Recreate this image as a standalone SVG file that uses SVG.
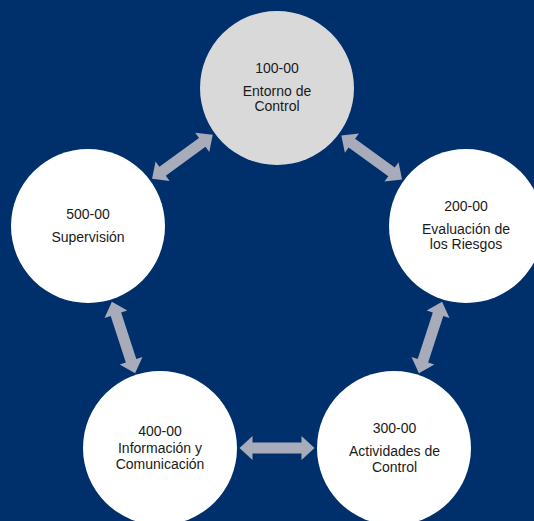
<svg xmlns="http://www.w3.org/2000/svg" xmlns:xlink="http://www.w3.org/1999/xlink" width="534" height="521" viewBox="0 0 534 521">
<style>
.bg{fill:#00306b}
.node{fill:#ffffff}
.node.gray{fill:#d9d9d9}
.lbl{font-family:"Liberation Sans",Arial,sans-serif;font-size:14px;fill:#1a1a1a;text-anchor:middle}
.arr{fill:#a7abba}
</style>
<defs>
<path id="dbl" class="arr" d="M-37.5,0 L-24.5,-12 L-24.5,-5.5 L24.5,-5.5 L24.5,-12 L37.5,0 L24.5,12 L24.5,5.5 L-24.5,5.5 L-24.5,12 Z"/>
</defs>
<rect class="bg" x="0" y="0" width="534" height="521"/>
<g id="connectors">
<use xlink:href="#dbl" transform="translate(182.4,156.8) rotate(-36)"/>
<use xlink:href="#dbl" transform="translate(371.7,157.5) rotate(36)"/>
<use xlink:href="#dbl" transform="translate(430.5,337.5) rotate(108)"/>
<use xlink:href="#dbl" transform="translate(277,448)"/>
<use xlink:href="#dbl" transform="translate(123.5,337.5) rotate(72)"/>
</g>
<g id="n100">
<circle class="node gray" cx="277" cy="88" r="77"/>
<text class="lbl" x="277" y="73">100-00</text>
<text class="lbl" x="277" y="96">Entorno de</text>
<text class="lbl" x="277" y="111">Control</text>
</g>
<g id="n200">
<circle class="node" cx="466" cy="226" r="77"/>
<text class="lbl" x="466" y="211">200-00</text>
<text class="lbl" x="466" y="234">Evaluación de</text>
<text class="lbl" x="466" y="249">los Riesgos</text>
</g>
<g id="n300">
<circle class="node" cx="394" cy="448" r="77"/>
<text class="lbl" x="394.5" y="433">300-00</text>
<text class="lbl" x="394.5" y="456">Actividades de</text>
<text class="lbl" x="394.5" y="471.5">Control</text>
</g>
<g id="n400">
<circle class="node" cx="160" cy="448" r="77"/>
<text class="lbl" x="160" y="436">400-00</text>
<text class="lbl" x="160" y="453">Información y</text>
<text class="lbl" x="160" y="469">Comunicación</text>
</g>
<g id="n500">
<circle class="node" cx="88" cy="226" r="77"/>
<text class="lbl" x="88" y="219">500-00</text>
<text class="lbl" x="88" y="241.5">Supervisión</text>
</g>
</svg>
